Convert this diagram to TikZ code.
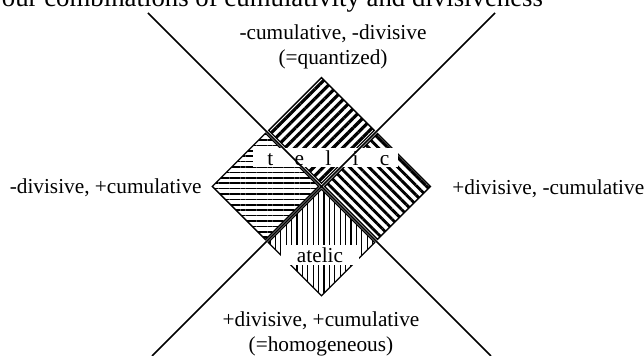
\documentclass[tikz,border=0pt]{standalone}
\usepackage{fontspec}
\setmainfont{Liberation Serif}
\usetikzlibrary{patterns.meta, shapes.geometric, positioning}

\begin{document}
\begin{tikzpicture}[
  x=0.5pt, y=-0.5pt,
  lbl/.style={inner sep=0pt, font=\fontsize{10.65}{12.5}\selectfont, align=center},
  sq/.style={diamond, aspect=1, draw, line width=0.65pt, minimum width=53.5pt, minimum height=53.5pt, inner sep=0pt},
  tag/.style={fill=white, inner xsep=0pt, inner ysep=0.5pt, font=\fontsize{10.65}{12.5}\selectfont},
  axis/.style={line width=0.75pt}
]
  \useasboundingbox (0,0) rectangle (644,356);

  % Title (cut off at the top edge)
  \node[lbl, anchor=base, font=\fontsize{13.4}{16}\selectfont] (title) at (265,7)
    {Four combinations of cumulativity and divisiveness};

  % Four hatched squares
  \node[sq, pattern={Lines[angle=45, distance=3.4pt, line width=1.6pt]}] (sqtop) at (321.5,130.5) {};
  \node[sq, pattern={Lines[angle=0, distance=2.7pt, line width=0.8pt]}] (sqleft) at (265.5,186.5) {};
  \node[sq, pattern={Lines[angle=-45, distance=3.4pt, line width=1.45pt]}] (sqright) at (377.5,186.5) {};
  \node[sq, pattern={Lines[angle=90, distance=2.7pt, line width=0.6pt]}] (sqbot) at (321.5,242.5) {};

  % White tags
  \node[tag, anchor=base west, text width=58.5pt, inner xsep=7pt, text height=8.5pt, text depth=0pt, align=left] (telic) at (253,166) {t~~~e~~~l~~~i~~~c};
  \node[tag, anchor=base, minimum width=39pt, text height=8.5pt, text depth=0.5pt] (atelic) at (320,263) {atelic};

  % Crossing lines
  \coordinate (nw) at (148,13);
  \coordinate (se) at (491,356);
  \coordinate (ne) at (495,13);
  \coordinate (sw) at (152,356);
  \draw[axis] (nw) -- (se);
  \draw[axis] (ne) -- (sw);

  % Labels (base = last line)
  \node[lbl, anchor=base] (quant) at (333,65) {-cumulative, -divisive\\(=quantized)};
  \node[lbl, anchor=base east] (lcum) at (202,194) {-divisive, +cumulative};
  \node[lbl, anchor=base west] (rdiv) at (452,195) {+divisive, -cumulative};
  \node[lbl, anchor=base] (homog) at (321,352) {+divisive, +cumulative\\(=homogeneous)};
\end{tikzpicture}
\end{document}
